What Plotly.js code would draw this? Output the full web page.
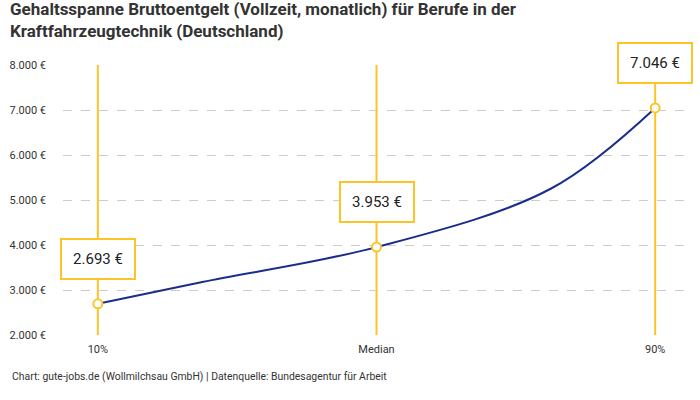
<!DOCTYPE html>
<html>
<head>
<meta charset="utf-8">
<script src="https://cdn.plot.ly/plotly-3.0.1.min.js"></script>
<style>
  body { margin: 0; background: #fff; }
  #chart { width: 700px; height: 400px; }
</style>
</head>
<body>
<div id="chart"></div>
<script>
// percentiles of the curve (25 and 75 are not labelled, only shape the line)
const percentiles = [10, 25, 50, 75, 90]
const salaries = [2693, 3180, 3953, 5250, 7046]

// labelled markers
const markerPercentiles = [10, 50, 90]
const markerSalaries = [2693, 3953, 7046]

const xTickLabels = ["10%", "Median", "90%"]
const yTickVals = [2000, 3000, 4000, 5000, 6000, 7000, 8000]

const yellow = "#fdc427"
const blue = "#1b2d8c"
const font = "Roboto, 'Liberation Sans', sans-serif"

function euro(v) {
  return String(v).replace(/\B(?=(\d{3})+(?!\d))/g, ".") + " €"
}

const data = []

// vertical yellow lines
markerPercentiles.forEach((p) => {
  data.push({
    x: [p, p],
    y: [yTickVals[0], yTickVals[yTickVals.length - 1]],
    mode: "lines",
    line: { color: yellow, width: 2 },
    hoverinfo: "skip",
    showlegend: false,
  })
})

data.push({
  x: percentiles,
  y: salaries,
  mode: "lines",
  line: { color: blue, width: 2, shape: "spline", smoothing: 1 },
  showlegend: false,
})

data.push({
  x: markerPercentiles,
  y: markerSalaries,
  mode: "markers",
  marker: { size: 9, color: "#fff", line: { color: yellow, width: 2 } },
  showlegend: false,
})

const annotations = markerPercentiles.map((p, i) => ({
  x: p,
  y: markerSalaries[i],
  xref: "x",
  yref: "y",
  text: euro(markerSalaries[i]),
  showarrow: true,
  arrowcolor: "rgba(0,0,0,0)",
  ax: 0,
  ay: -45,
  bgcolor: "#fff",
  bordercolor: yellow,
  borderwidth: 2,
  borderpad: 9,
  width: 54,
  height: 20,
  font: { family: font, size: 15, color: "#222" },
}))

annotations.push({
  xref: "paper",
  yref: "paper",
  x: (10 - 63) / 627,
  y: (335 - 377) / 270,
  xanchor: "left",
  yanchor: "middle",
  showarrow: false,
  text: "Chart: gute-jobs.de (Wollmilchsau GmbH) | Datenquelle: Bundesagentur für Arbeit",
  font: { family: font, size: 10.4, color: "#333" },
})

Plotly.newPlot("chart", data, {
  width: 700,
  height: 400,
  margin: { l: 63, r: 10, t: 65, b: 65 },
  paper_bgcolor: "#fff",
  plot_bgcolor: "#fff",
  font: { family: font, color: "#333" },
  title: {
    text: "<b>Gehaltsspanne Bruttoentgelt (Vollzeit, monatlich) für Berufe in der<br>Kraftfahrzeugtechnik (Deutschland)</b>",
    xref: "container",
    yref: "container",
    x: 10 / 700,
    xanchor: "left",
    y: 0.962,
    yanchor: "top",
    font: { family: font, size: 17, color: "#333" },
  },
  xaxis: {
    range: [5, 95],
    tickvals: markerPercentiles,
    ticktext: xTickLabels,
    showgrid: false,
    zeroline: false,
    showline: false,
    ticks: "",
    ticklabelstandoff: 6,
    tickfont: { family: font, size: 11, color: "#333" },
    fixedrange: true,
  },
  yaxis: {
    range: [2000, 8000],
    tickvals: yTickVals,
    ticktext: yTickVals.map(euro),
    showgrid: true,
    gridcolor: "#cccccc",
    griddash: "dash",
    gridwidth: 1,
    zeroline: false,
    showline: false,
    ticks: "",
    ticklabelstandoff: 16,
    tickfont: { family: font, size: 11, color: "#333" },
    fixedrange: true,
  },
  annotations: annotations,
}, { displayModeBar: false, staticPlot: true })
</script>
</body>
</html>
